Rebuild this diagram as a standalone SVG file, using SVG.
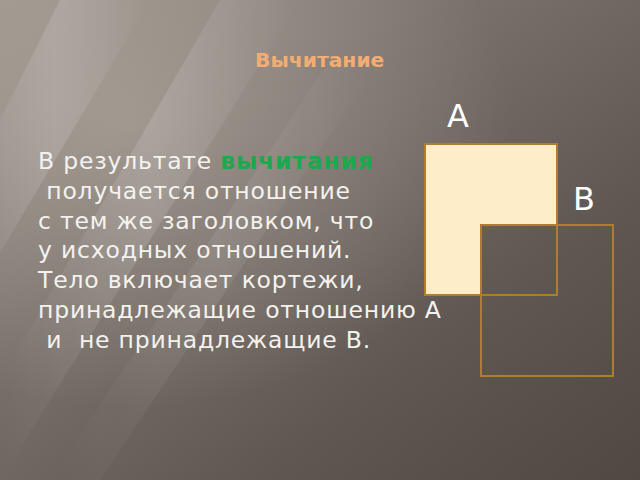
<svg xmlns="http://www.w3.org/2000/svg" width="640" height="480" viewBox="0 0 640 480">
  <defs>
    <linearGradient id="bg" x1="0" y1="0" x2="1" y2="1">
      <stop offset="0" stop-color="#9a928b"/>
      <stop offset="0.35" stop-color="#7a726c"/>
      <stop offset="0.7" stop-color="#5f5751"/>
      <stop offset="1" stop-color="#4f4843"/>
    </linearGradient>
    <linearGradient id="ray" x1="0" y1="0" x2="1" y2="0">
      <stop offset="0" stop-color="#ffffff" stop-opacity="0"/>
      <stop offset="0.5" stop-color="#ffffff" stop-opacity="0.18"/>
      <stop offset="1" stop-color="#ffffff" stop-opacity="0"/>
    </linearGradient>
    <radialGradient id="glow" cx="0.2" cy="0.25" r="0.6">
      <stop offset="0" stop-color="#c4bab0" stop-opacity="0.45"/>
      <stop offset="1" stop-color="#c4bab0" stop-opacity="0"/>
    </radialGradient>
  </defs>
  <style>
    .body { font-family: "DejaVu Sans", "Liberation Sans", sans-serif; font-size: 23.5px; fill: #f4f2ef; letter-spacing: 0.8px; white-space: pre; }
    .hl { font-weight: bold; fill: #1da84e; }
    .title { font-family: "DejaVu Sans", "Liberation Sans", sans-serif; font-size: 20.3px; font-weight: bold; fill: #f2ad74; }
    .lbl { font-family: "DejaVu Sans", "Liberation Sans", sans-serif; font-size: 32px; fill: #ffffff; }
    .sq { fill: none; stroke: #b07d2c; stroke-width: 2; }
  </style>
  <rect x="0" y="0" width="640" height="480" fill="url(#bg)"/>
  <rect x="0" y="0" width="640" height="480" fill="url(#glow)"/>
  <g opacity="0.8">
    <polygon points="60,0 150,0 -40,320 -40,200" fill="url(#ray)"/>
    <polygon points="220,0 300,0 0,480 0,380" fill="url(#ray)"/>
    <polygon points="330,60 380,60 100,480 50,480" fill="url(#ray)" opacity="0.6"/>
  </g>

  <g id="title">
    <text class="title" x="255" y="67">Вычитание</text>
  </g>

  <g id="body">
    <text class="body" x="38" y="169">В результате <tspan class="hl">вычитания</tspan></text>
    <text class="body" x="38" y="199"> получается отношение</text>
    <text class="body" x="38" y="229">с тем же заголовком, что</text>
    <text class="body" x="38" y="258">у исходных отношений.</text>
    <text class="body" x="38" y="288">Тело включает кортежи,</text>
    <text class="body" x="38" y="318">принадлежащие отношению А</text>
    <text class="body" x="38" y="348"> и  не принадлежащие В.</text>
  </g>

  <g id="nodeA">
    <path d="M425,144 H557 V225 H481 V295 H425 Z" fill="#fdedc9"/>
    <rect class="sq" x="425" y="144" width="132" height="151"/>
    <text class="lbl" x="447" y="127">A</text>
  </g>
  <g id="nodeB">
    <rect class="sq" x="481" y="225" width="132" height="151"/>
    <text class="lbl" x="573" y="210">B</text>
  </g>
  <g id="connectors"/>
</svg>
